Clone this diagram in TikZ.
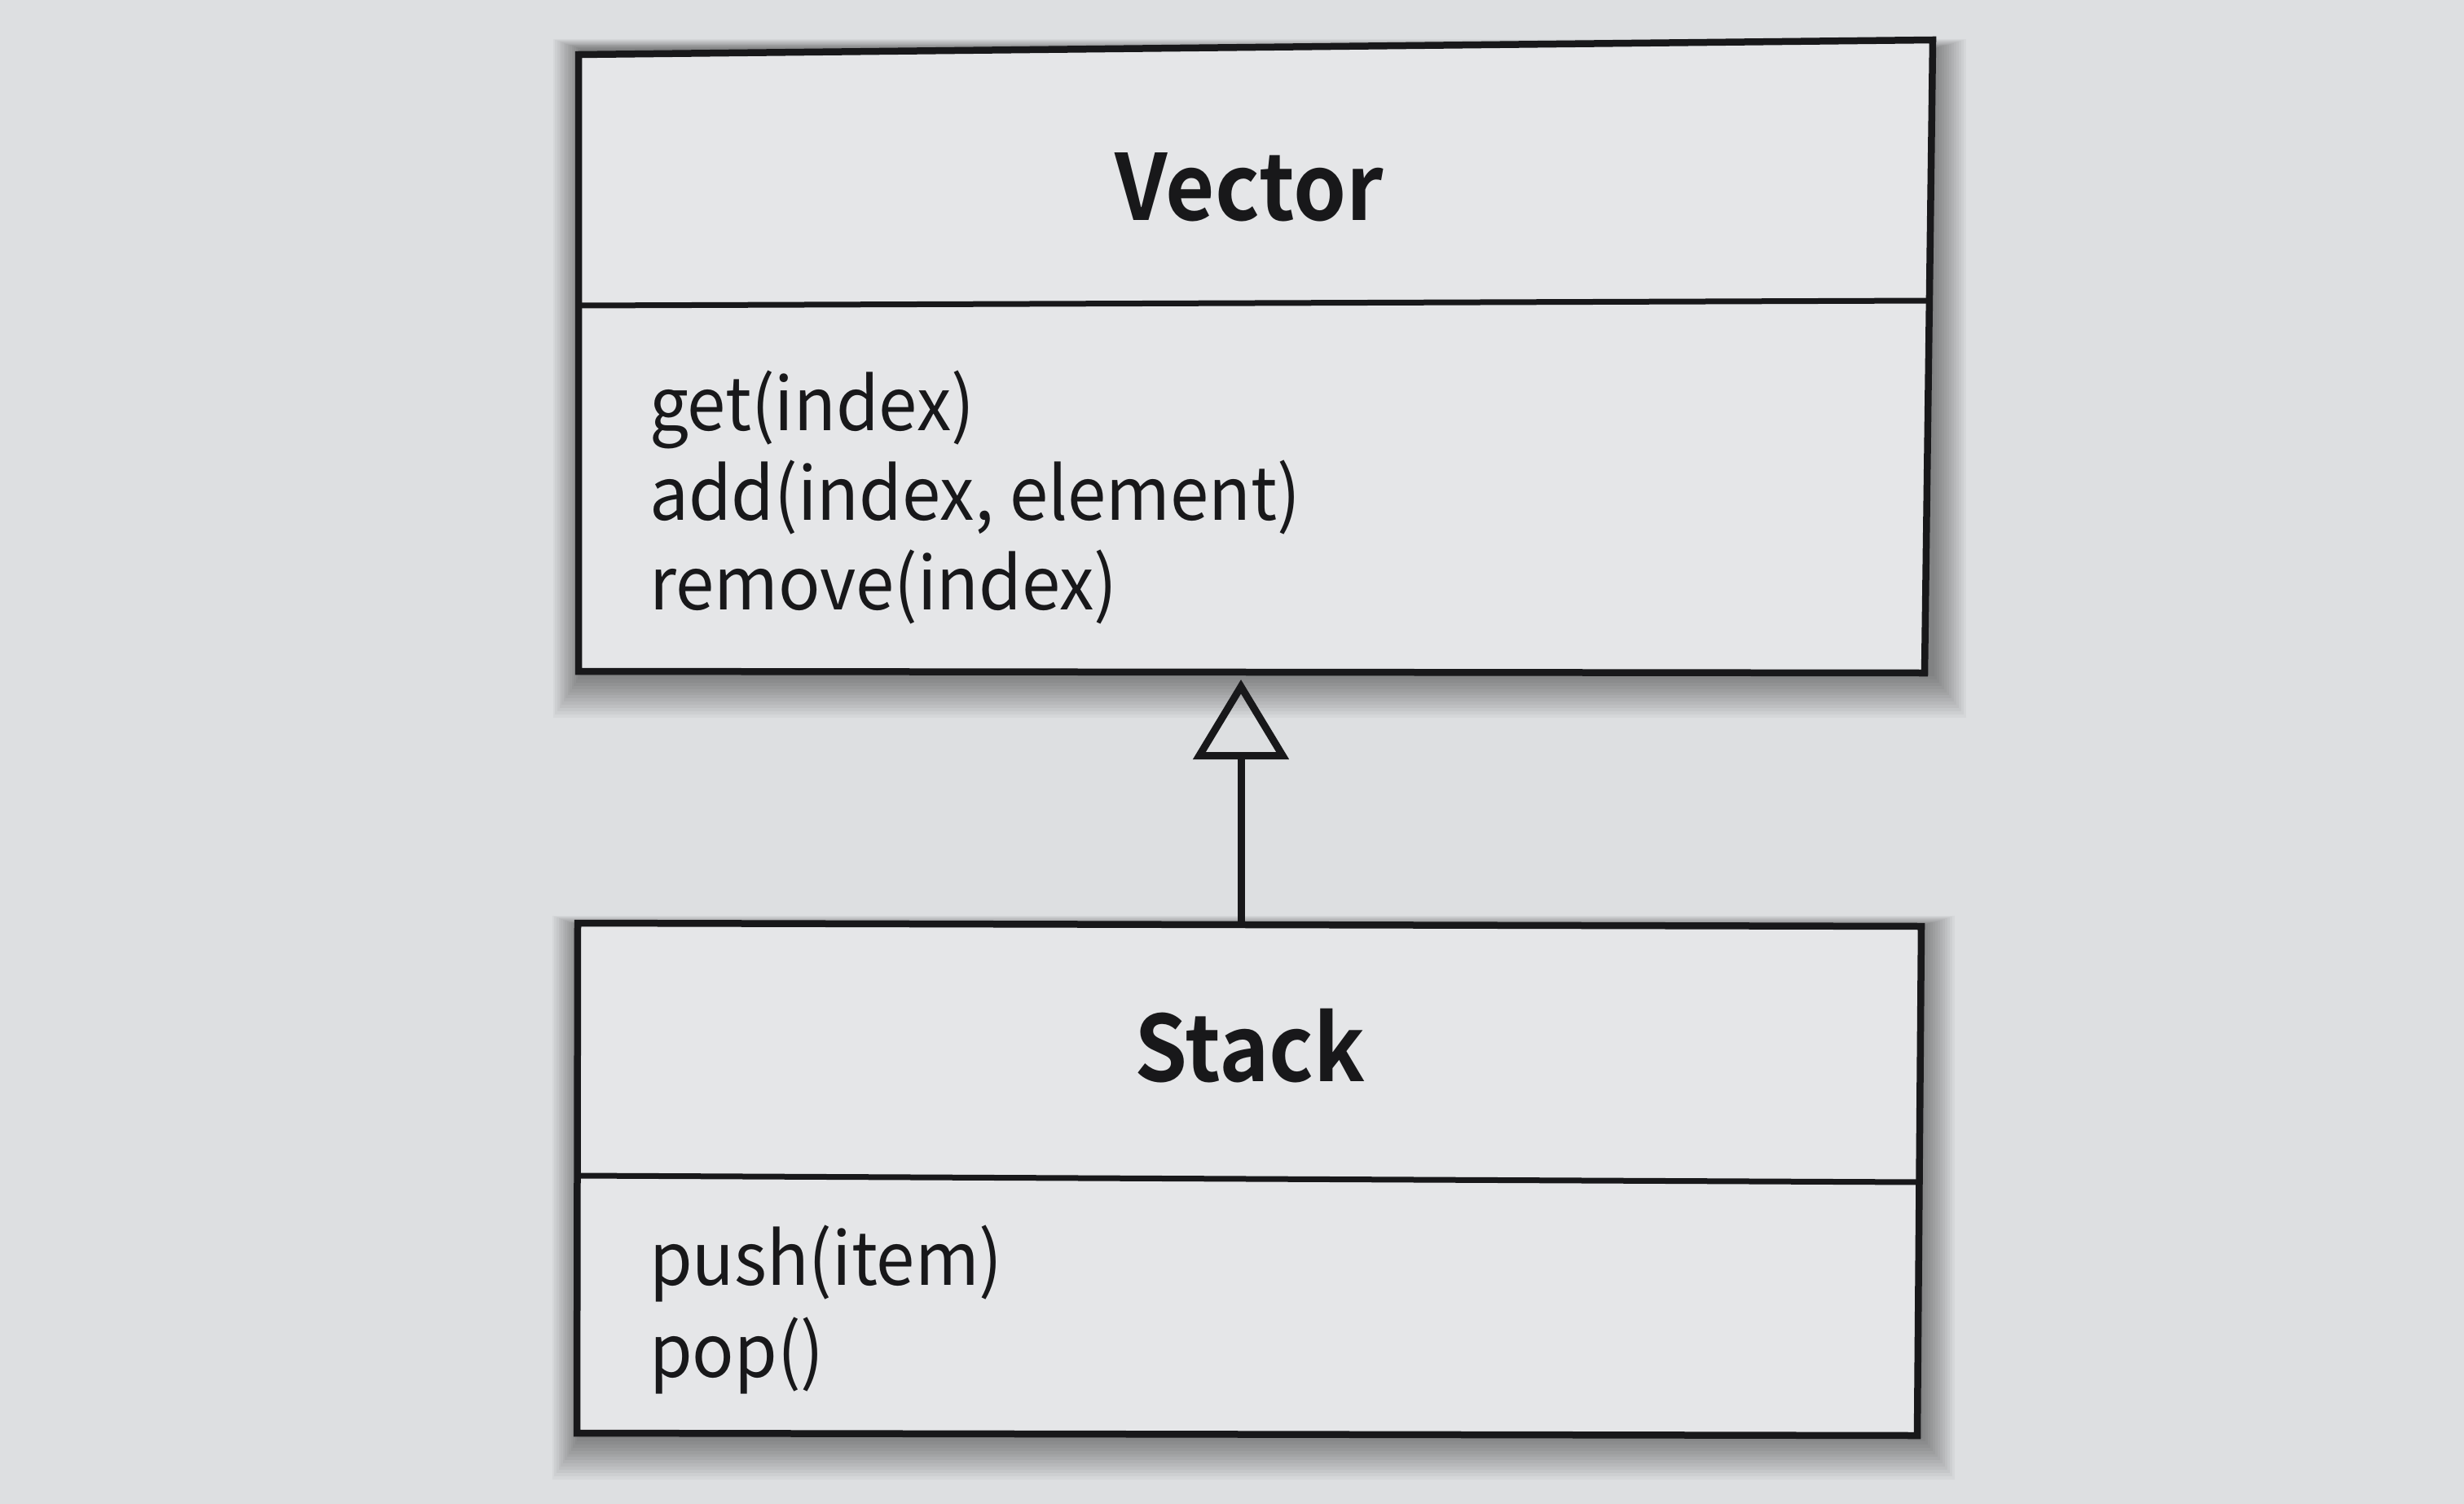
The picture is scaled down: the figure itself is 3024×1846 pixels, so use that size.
\documentclass[tikz,border=0pt]{standalone}
\usepackage{fontspec}
\setmainfont{Noto Sans CJK KR}
\newfontfamily\methfont[FakeStretch=0.945]{Noto Sans CJK KR}
\newfontfamily\titlefont[FakeStretch=0.93]{Noto Sans CJK KR Bold}
\usetikzlibrary{arrows.meta}
\definecolor{bgc}{RGB}{221,223,225}
\definecolor{boxc}{RGB}{229,230,232}
\definecolor{ink}{RGB}{24,24,26}
\begin{document}
\begin{tikzpicture}[x=1pt,y=-1pt,
  boxline/.style={draw=ink,line width=8.5pt,line join=miter,fill=boxc},
  sepline/.style={draw=ink,line width=7pt},
  shadowlayer/.style={fill=black,opacity=0.034},
  classtitle/.style={font=\titlefont\fontsize{112}{116}\selectfont,text=ink,anchor=base,inner sep=0pt},
  meth/.style={font=\methfont\fontsize{90}{96}\selectfont,text=ink,anchor=base west,inner sep=0pt},
  inherit/.style={draw=ink,line width=9pt,-{Triangle[open,length=98pt,width=116pt]}}]
\useasboundingbox (0,0) rectangle (3024,1846);
\fill[bgc] (0,0) rectangle (3024,1846);
% corners
\coordinate (vTL) at (710,67);
\coordinate (vTR) at (2372,49);
\coordinate (vBR) at (2362,826);
\coordinate (vBL) at (710,824);
\coordinate (vDL) at (710,375);
\coordinate (vDR) at (2369,369);
\coordinate (sTL) at (709,1133);
\coordinate (sTR) at (2358,1137);
\coordinate (sBR) at (2353,1762);
\coordinate (sBL) at (708,1759);
\coordinate (sDL) at (709,1443);
\coordinate (sDR) at (2356,1451);
% shadows
\foreach \k in {0,3,...,39} {
  \fill[shadowlayer] (712-0.85*\k,60-0.3*\k) rectangle (2374+\k,830+1.3*\k);
  \fill[shadowlayer] (711-0.85*\k,1136-0.3*\k) rectangle (2360+\k,1765+1.3*\k);
}
% boxes
\draw[boxline] (vTL) -- (vTR) -- (vBR) -- (vBL) -- cycle;
\draw[sepline] (vDL) -- (vDR);
\draw[boxline] (sTL) -- (sTR) -- (sBR) -- (sBL) -- cycle;
\draw[sepline] (sDL) -- (sDR);
% texts
\node[classtitle] (vtitle) at (1533,270) {Vector};
\node[meth] (m1) at (797,528) {get(index)};
\node[meth] (m2) at (797,638) {add(index, element)};
\node[meth] (m3) at (797,748) {remove(index)};
\node[classtitle] (stitle) at (1534,1327) {Stack};
\node[meth] (m4) at (797,1577) {push(item)};
\node[meth] (m5) at (797,1690) {pop()};
% inheritance
\coordinate (sTop) at (1523,1133);
\coordinate (vBot) at (1523,834);
\draw[inherit] (sTop) -- (vBot);
\end{tikzpicture}
\end{document}
